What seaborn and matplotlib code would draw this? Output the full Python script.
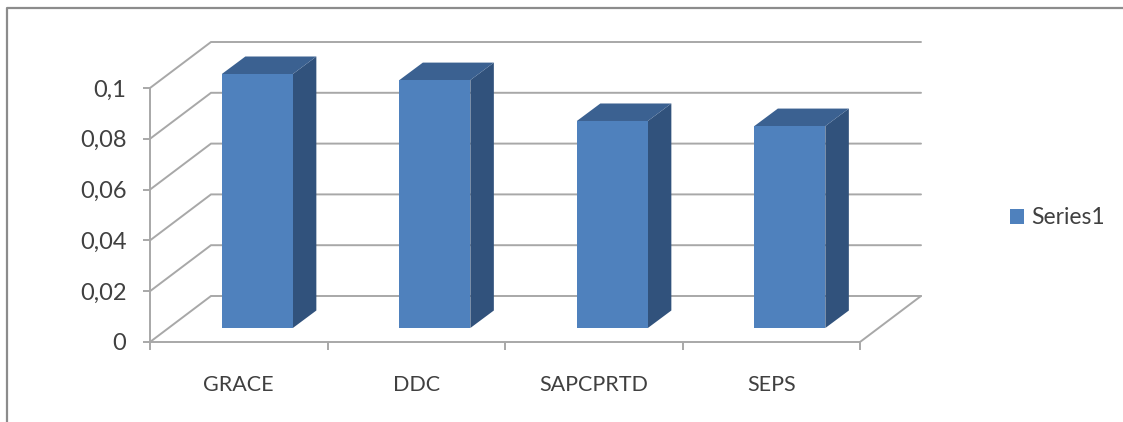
import matplotlib
matplotlib.use("Agg")
import matplotlib.pyplot as plt
import seaborn as sns
from matplotlib.lines import Line2D
from matplotlib.patches import Polygon
from matplotlib.transforms import Affine2D

categories = ["GRACE", "DDC", "SAPCPRTD", "SEPS"]
values = [0.1, 0.0976, 0.0815, 0.0795]
yticks = [0, 0.02, 0.04, 0.06, 0.08, 0.1]
ylabels = ["0", "0,02", "0,04", "0,06", "0,08", "0,1"]

FRONT = "#4f81bd"
SIDE = "#31527c"
TOP = "#3b6191"
GRID = "#a8a8a8"
TEXT = "#404040"

W, H = 1123, 422
sns.set_theme(style="white")
plt.rcParams["font.family"] = ["Lato", "DejaVu Sans"]

fig = plt.figure(figsize=(W / 100, H / 100), dpi=100, facecolor="white")
ax = fig.add_axes([150 / W, (H - 342) / H, 710 / W, 254 / H])
ax.patch.set_alpha(0)

sns.barplot(x=categories, y=values, color=FRONT, saturation=1, width=0.4,
            label="Series1", legend=False, ax=ax, zorder=3)
ax.set_xlim(-0.5, 3.5)
ax.set_ylim(0, 0.1)

# pixels to data units
px = 1 / 177.5
py = 0.1 / 254

# back wall and left wall lines
wall_x = 61 * px
wall_y = 46 * py
for t in yticks:
    ax.plot([-0.5, -0.5 + wall_x, 3.5 + wall_x], [t, t + wall_y, t + wall_y],
            color=GRID, lw=1.4, clip_on=False, zorder=1, solid_joinstyle="miter")
# floor, right side
ax.plot([3.5, 3.5 + wall_x], [0, wall_y], color=GRID, lw=1.4, clip_on=False, zorder=1)

# bars sit a bit behind the front edge
shift = Affine2D().translate(18.6, 14) + Affine2D()
bar_trans = ax.transData + shift
dx = 23.5 * px
dy = 17.5 * py
for bar in ax.patches[:len(values)]:
    x0 = bar.get_x()
    x1 = x0 + bar.get_width()
    h = bar.get_height()
    bar.set_transform(bar_trans)
    bar.set_clip_on(False)
    bar.set_linewidth(0)
    ax.add_patch(Polygon([(x1, 0), (x1 + dx, dy), (x1 + dx, h + dy), (x1, h)], closed=True,
                         facecolor=SIDE, edgecolor="none", transform=bar_trans,
                         clip_on=False, zorder=2))
    ax.add_patch(Polygon([(x0, h), (x0 + dx, h + dy), (x1 + dx, h + dy), (x1, h)], closed=True,
                         facecolor=TOP, edgecolor="none", transform=bar_trans,
                         clip_on=False, zorder=2))

sns.despine(ax=ax)
for s in ["left", "bottom"]:
    ax.spines[s].set_color(GRID)
    ax.spines[s].set_linewidth(1.4)

ax.set_yticks(yticks)
ax.set_yticklabels(ylabels, fontsize=17, color=TEXT)
ax.tick_params(axis="y", left=True, length=5, width=1.4, color=GRID, pad=12)

ax.set_xticks(range(len(categories)))
ax.set_xticklabels(categories, fontsize=15.5, color=TEXT)
ax.tick_params(axis="x", which="major", bottom=False, length=0, pad=23.5)
ax.set_xticks([-0.5, 0.5, 1.5, 2.5, 3.5], minor=True)
ax.tick_params(axis="x", which="minor", bottom=True, length=6, width=1.4, color=GRID)

handles, labels = ax.get_legend_handles_labels()
fig.legend(handles[:1], labels[:1], loc="center left", frameon=False,
           bbox_to_anchor=(1010 / W, (H - 218) / H), borderpad=0, borderaxespad=0,
           handlelength=0.61, handleheight=0.61, handletextpad=0.3,
           fontsize=16.5, labelcolor=TEXT)

# outer chart frame, cut off at right and bottom
fig.add_artist(Line2D([7 / W, 7 / W, 1], [0, (H - 8) / H, (H - 8) / H],
                      color="#8c8c8c", lw=1.6, transform=fig.transFigure))

fig.savefig("out.png", dpi=100)
